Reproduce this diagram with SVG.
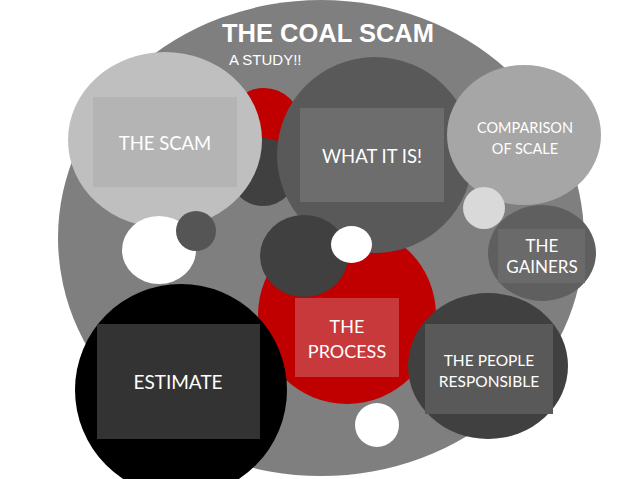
<svg xmlns="http://www.w3.org/2000/svg" width="638" height="479" viewBox="0 0 638 479">
<style>
.lbl{font-family:Lato,"Open Sans",sans-serif;fill:#ffffff;text-anchor:middle}
.title{font-family:"Liberation Sans",Arial,sans-serif;fill:#ffffff}
</style>
<rect width="638" height="479" fill="#ffffff"/>
<g id="background">
<ellipse cx="321" cy="238" rx="263" ry="238" fill="#7f7f7f"/>
</g>
<g id="title">
<text class="title" x="222" y="42" font-size="25.5" font-weight="bold">THE COAL SCAM</text>
<text class="title" x="229" y="65" font-size="15">A STUDY!!</text>
</g>
<g id="deco-red-small"><circle cx="264" cy="125" r="37" fill="#c00000"/></g>
<g id="deco-dark-small"><circle cx="263" cy="172" r="34" fill="#404040"/></g>
<g id="the-scam">
<ellipse cx="165" cy="140" rx="97" ry="88" fill="#bfbfbf"/>
<rect x="93" y="97" width="144" height="90" fill="#b4b4b4"/>
<text class="lbl" x="165" y="150" font-size="18.5">THE SCAM</text>
</g>
<g id="deco-white-left"><ellipse cx="159" cy="250" rx="37" ry="34" fill="#ffffff"/></g>
<g id="deco-dark-left"><circle cx="196" cy="231" r="20" fill="#555555"/></g>
<g id="process">
<circle cx="347" cy="315" r="89" fill="#c00000"/>
<rect x="295" y="298" width="104" height="79" fill="#c8393b"/>
<text class="lbl" x="347" y="333" font-size="18">THE</text>
<text class="lbl" x="347" y="358" font-size="18">PROCESS</text>
</g>
<g id="what-it-is">
<circle cx="375" cy="155" r="98" fill="#595959"/>
<rect x="300" y="108" width="144" height="94" fill="#6d6d6d"/>
<text class="lbl" x="372" y="163" font-size="18.5">WHAT IT IS!</text>
</g>
<g id="comparison">
<ellipse cx="524" cy="135" rx="77" ry="70" fill="#a6a6a6"/>
<text class="lbl" x="525" y="133" font-size="14.5">COMPARISON</text>
<text class="lbl" x="525" y="154" font-size="14.5">OF SCALE</text>
</g>
<g id="deco-light"><circle cx="484" cy="208" r="21" fill="#d9d9d9"/></g>
<g id="gainers">
<ellipse cx="542" cy="253" rx="54" ry="48" fill="#5f5f5f"/>
<rect x="498" y="229" width="87" height="54" fill="#6a6a6a"/>
<text class="lbl" x="542" y="252" font-size="17">THE</text>
<text class="lbl" x="542" y="273" font-size="17">GAINERS</text>
</g>
<g id="deco-dark-mid"><ellipse cx="304" cy="256" rx="44" ry="41" fill="#404040"/></g>
<g id="deco-white-mid"><ellipse cx="351.5" cy="244.5" rx="20.5" ry="18.5" fill="#ffffff"/></g>
<g id="estimate">
<circle cx="181" cy="390" r="106" fill="#000000"/>
<rect x="97" y="324" width="163" height="115" fill="#333333"/>
<text class="lbl" x="178" y="389" font-size="19">ESTIMATE</text>
</g>
<g id="people">
<ellipse cx="488" cy="366" rx="80" ry="73" fill="#404040"/>
<rect x="425" y="324" width="128" height="90" fill="#595959"/>
<text class="lbl" x="489" y="366" font-size="15.5">THE PEOPLE</text>
<text class="lbl" x="489" y="387" font-size="15.5">RESPONSIBLE</text>
</g>
<g id="deco-white-bottom"><circle cx="377" cy="425" r="22" fill="#ffffff"/></g>
<g id="connectors"></g>
</svg>
